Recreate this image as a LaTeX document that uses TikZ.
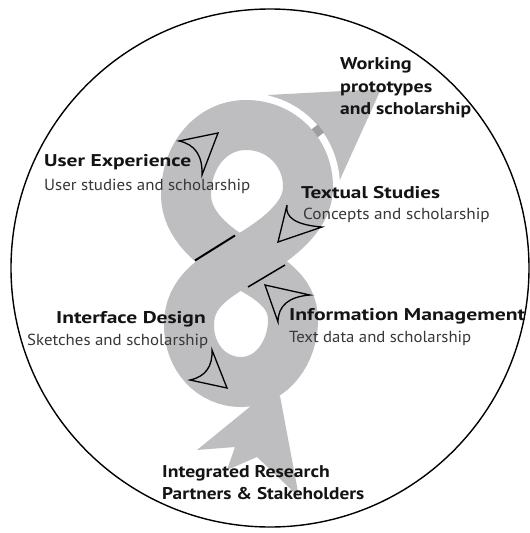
\documentclass[tikz,border=0pt]{standalone}
\usepackage{fontspec}
\setmainfont{PT Sans}
\definecolor{bandgray}{RGB}{190,190,192}
\definecolor{patchgray}{RGB}{158,158,160}
\definecolor{subtext}{RGB}{55,55,55}
\definecolor{titletext}{RGB}{20,20,20}
\newcommand{\fitto}[2]{\resizebox{#1}{\height}{#2}}
\begin{document}
\begin{tikzpicture}[x=1pt,y=-1pt,
  band/.style={draw=bandgray,line width=50pt},
  marker/.style={draw=black,line width=1.3pt,line join=miter},
  overedge/.style={draw=black,line width=2pt},
  title/.style={anchor=base west,inner sep=0pt,text=titletext,font=\bfseries\fontsize{17}{20}\selectfont},
  sub/.style={anchor=base west,inner sep=0pt,text=subtext,font=\fontsize{16}{20}\selectfont}]
\useasboundingbox (0,0) rectangle (530,533);
\fill[white] (0,0) rectangle (530,533);
% outer circle
\draw[line width=1.4pt] (270,268) circle[radius=259pt];
% tail (fletching)
\fill[bandgray] (262,397) -- (197,450) -- (235,447) -- (227,470) -- (257,457) -- (299,497) -- (280,396) -- cycle;
% arrow head
\fill[bandgray] (268,95) -- (381,89) -- (338,184) -- cycle;
% white gap between loop and head
\draw[white,line width=64pt] (246,125) .. controls (281,125) and (308,152) .. (308,187) -- (308,196);
% darker patch on the gap
\fill[patchgray] (310.7,130.1) -- (317.8,124.6) -- (324.0,132.4) -- (316.9,137.9) -- cycle;
% the figure eight
\coordinate (C) at (240,262);
\draw[band] (C) .. controls (214,248) and (186,225) .. (186,195)
  .. controls (186,155) and (212,125) .. (246,125)
  .. controls (281,125) and (308,152) .. (308,187)
  .. controls (308,222) and (266,246) .. (C)
  .. controls (214,278) and (189,292) .. (189,325)
  .. controls (189,358) and (212,382) .. (241,382)
  .. controls (272,382) and (293,352) .. (293,320)
  .. controls (293,290) and (266,276) .. (C) -- cycle;
% edges of the over-crossing band
\draw[overedge] (195,260.5) -- (235,235.5);
\draw[overedge,line width=1.5pt] (248,287) -- (285,265);
% direction markers
\draw[marker] (218,133) -- (179,141) .. controls (195,144.3) and (202.7,155.7) .. (202,175) -- cycle;
\draw[marker] (278,242) -- (287,205) .. controls (284.7,217.7) and (296.3,225) .. (322,227) -- cycle;
\draw[marker] (265,285) -- (310,295) .. controls (288.7,296.7) and (278,305.7) .. (278,322) -- cycle;
\draw[marker] (227,388) -- (212,350) .. controls (212.7,366.7) and (205.3,376.7) .. (190,380) -- cycle;
% texts
\node[title] (wp1) at (340,69) {\fitto{71.5pt}{Working}};
\node[title] (wp2) at (340,92) {\fitto{92pt}{prototypes}};
\node[title] (wp3) at (340,114) {\fitto{131pt}{and scholarship}};
\node[title] (ux) at (44,166) {\fitto{147pt}{User Experience}};
\node[sub] (uxs) at (44,190) {\fitto{206pt}{User studies and scholarship}};
\node[title] (ts) at (301,198) {\fitto{139pt}{Textual Studies}};
\node[sub] (tss) at (303,219) {\fitto{186.5pt}{Concepts and scholarship}};
\node[title] (id) at (56,323) {\fitto{149.5pt}{Interface Design}};
\node[sub] (ids) at (27,345) {\fitto{181pt}{Sketches and scholarship}};
\node[title] (im) at (289,320) {\fitto{236pt}{Information Management}};
\node[sub] (ims) at (289,342) {\fitto{182pt}{Text data and scholarship}};
\node[title] (ir1) at (162,477) {\fitto{167.5pt}{Integrated Research}};
\node[title] (ir2) at (162,499) {\fitto{202pt}{Partners \& Stakeholders}};
\end{tikzpicture}
\end{document}
